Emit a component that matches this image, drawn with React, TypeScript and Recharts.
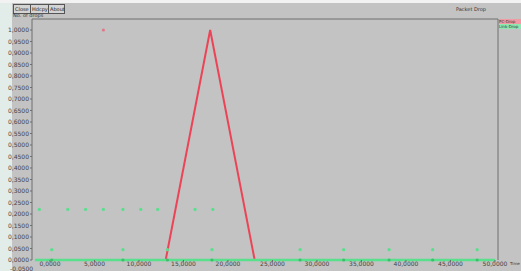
import {
  ComposedChart,
  Line,
  Scatter,
  XAxis,
  YAxis,
} from "recharts";

const xTicks = [0, 5, 10, 15, 20, 25, 30, 35, 40, 45, 50];
const yTicks = [
  0, 0.05, 0.1, 0.15, 0.2, 0.25, 0.3, 0.35, 0.4, 0.45, 0.5, 0.55, 0.6, 0.65,
  0.7, 0.75, 0.8, 0.85, 0.9, 0.95, 1.0,
];

// PC-Drop series
const pcDropLine = [
  { x: 13, y: 0 },
  { x: 18, y: 1 },
  { x: 23, y: 0 },
];
const pcDropPoints = [{ x: 6, y: 1 }];

// Link-Drop series
const linkDropLine = [
  { x: -1.7, y: 0 },
  { x: 50, y: 0 },
];
const linkDropBase = [
  { x: 0.2, y: 0 },
  { x: 8.2, y: 0 },
  { x: 13.2, y: 0 },
  { x: 18.2, y: 0 },
  { x: 28.1, y: 0 },
  { x: 33, y: 0 },
  { x: 38.1, y: 0 },
  { x: 43, y: 0 },
  { x: 48, y: 0 },
];
const linkDropLow = [
  { x: 0.2, y: 0.045 },
  { x: 8.2, y: 0.045 },
  { x: 13.2, y: 0.045 },
  { x: 18.2, y: 0.045 },
  { x: 28.1, y: 0.045 },
  { x: 33, y: 0.045 },
  { x: 38.1, y: 0.045 },
  { x: 43, y: 0.045 },
  { x: 48, y: 0.045 },
];
const linkDropHigh = [
  { x: -1.2, y: 0.22 },
  { x: 2, y: 0.22 },
  { x: 4, y: 0.22 },
  { x: 6, y: 0.22 },
  { x: 8.2, y: 0.22 },
  { x: 10.2, y: 0.22 },
  { x: 12.1, y: 0.22 },
  { x: 16.3, y: 0.22 },
  { x: 18.3, y: 0.22 },
];

const RED = "#ec4456";
const GREEN = "#58e08c";
const BG = "#c3c3c3";
const AXIS = "#6e6e6e";

const fmt = (v: number) => v.toFixed(4).replace(".", ",");

const dot = (color: string) => (props: any) => (
  <circle cx={props.cx} cy={props.cy} r={1.6} fill={color} />
);

const btn: React.CSSProperties = {
  position: "absolute",
  top: 4,
  height: 8,
  border: "1px solid #555",
  background: "#d4d4d4",
  fontSize: 5,
  lineHeight: "8px",
  padding: "0 1px",
  color: "#222",
};

const legendItem: React.CSSProperties = {
  position: "absolute",
  left: 499,
  width: 22,
  height: 5,
  fontSize: 4,
  lineHeight: "5px",
  color: "#333",
  whiteSpace: "nowrap",
};

export default function App() {
  return (
    <div
      style={{
        position: "absolute",
        left: 0,
        top: 0,
        width: 521,
        height: 271,
        background: BG,
        overflow: "hidden",
        fontFamily: "DejaVu Sans",
      }}
    >
      <div style={{ position: "absolute", left: 0, top: 0, width: 12, height: 271, background: "#e2ece9" }} />
      <div style={{ position: "absolute", left: 0, top: 0, width: 521, height: 3, background: "#f2f2f2" }} />
      <div style={{ ...btn, left: 13, width: 14 }}>Close</div>
      <div style={{ ...btn, left: 30, width: 16 }}>Hdcpy</div>
      <div style={{ ...btn, left: 48, width: 13 }}>About</div>
      <div style={{ position: "absolute", left: 13, top: 12, fontSize: 5, color: "#333" }}>No. of drops</div>
      <div style={{ position: "absolute", left: 456, top: 6, fontSize: 5, color: "#333" }}>Packet Drop</div>
      <div style={{ ...legendItem, top: 19, background: "#f19aa3" }}>PC-Drop</div>
      <div style={{ ...legendItem, top: 24, background: "#8fe8b0" }}>Link-Drop</div>
      <div style={{ position: "absolute", left: 510, top: 261, fontSize: 4, color: "#333" }}>Time</div>
      <div style={{ position: "absolute", left: 10, top: 265, fontSize: 6, color: "#444" }}>-0,0500</div>
      <ComposedChart
        width={521}
        height={271}
        margin={{ top: 15, right: 0, bottom: 0, left: 0 }}
        style={{ position: "absolute", left: 0, top: 0 }}
      >
        <XAxis
          xAxisId="b"
          dataKey="x"
          type="number"
          domain={[-2.02, 50.34]}
          ticks={xTicks}
          height={11}
          tickSize={2}
          tickMargin={0}
          tickFormatter={fmt}
          axisLine={false}
          stroke={AXIS}
          tick={{ fontSize: 6, fill: "#444" }}
        />
        <XAxis
          xAxisId="t"
          dataKey="x"
          type="number"
          orientation="top"
          domain={[-2.02, 50.34]}
          ticks={xTicks}
          height={4}
          tickSize={2}
          tick={false}
          stroke={AXIS}
        />
        <YAxis
          yAxisId="l"
          dataKey="y"
          type="number"
          domain={[0, 1.0478]}
          ticks={yTicks}
          width={32}
          tickSize={2}
          tickMargin={1}
          tickFormatter={fmt}
          stroke={AXIS}
          tick={{ fontSize: 6, fill: "#444" }}
          interval={0}
        />
        <YAxis
          yAxisId="r"
          orientation="right"
          type="number"
          domain={[0, 1.0478]}
          ticks={yTicks}
          width={23}
          tickSize={2}
          tick={false}
          stroke={AXIS}
          interval={0}
        />
        <Line
          xAxisId="b"
          yAxisId="l"
          data={pcDropLine}
          dataKey="y"
          stroke={RED}
          strokeWidth={2}
          dot={false}
          isAnimationActive={false}
        />
        <Line
          xAxisId="b"
          yAxisId="l"
          data={linkDropLine}
          dataKey="y"
          stroke={GREEN}
          strokeWidth={2.5}
          dot={false}
          isAnimationActive={false}
        />
        <Scatter xAxisId="b" yAxisId="l" data={pcDropPoints} dataKey="y" shape={dot("#e07888")} isAnimationActive={false} />
        <Scatter xAxisId="b" yAxisId="l" data={linkDropBase} dataKey="y" shape={dot("#3cbf6a")} isAnimationActive={false} />
        <Scatter xAxisId="b" yAxisId="l" data={linkDropLow} dataKey="y" shape={dot(GREEN)} isAnimationActive={false} />
        <Scatter xAxisId="b" yAxisId="l" data={linkDropHigh} dataKey="y" shape={dot(GREEN)} isAnimationActive={false} />
      </ComposedChart>
    </div>
  );
}
